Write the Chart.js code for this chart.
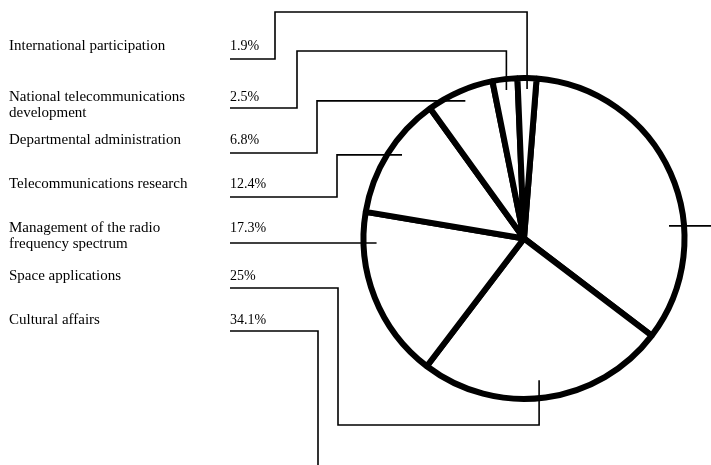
<!DOCTYPE html>
<html>
<head>
<meta charset="utf-8">
<script src="https://cdn.jsdelivr.net/npm/chart.js@4"></script>
<style>
  html, body { margin: 0; padding: 0; background: #fff; }
  #wrap { width: 711px; height: 465px; position: relative; }
</style>
</head>
<body>
<div id="wrap"><canvas id="chart"></canvas></div>
<script>
// slices, clockwise from the top of the pie
const categories = [
  ["Cultural affairs"],
  ["Space applications"],
  ["Management of the radio", "frequency spectrum"],
  ["Telecommunications research"],
  ["Departmental administration"],
  ["National telecommunications", "development"],
  ["International participation"],
];
const shares = [34.1, 25, 17.3, 12.4, 6.8, 2.5, 1.9]; // %

// label column: text row (middle of first line) and underline
const labelY = [320, 276, 228, 184, 140, 97, 46];
const underlineY = [331, 288, 243, 197, 153, 108, 59];

// how each leader runs from its underline to the pie
// at = degrees clockwise from top where it meets the rim, depth = how far it pokes in
const routes = [
  { approach: "right", elbowX: 318, railY: 500, outX: 760, at: 85.5, depth: 15 },
  { approach: "bottom", elbowX: 338, railY: 425, at: 174.6, depth: 18 },
  { approach: "left", elbowX: null, at: 268.4, depth: 13 },
  { approach: "left", elbowX: 337, at: 301.4, depth: 15 },
  { approach: "left", elbowX: 317, at: 329, depth: 24 },
  { approach: "top", elbowX: 297, railY: 51, at: 353.7, depth: 11 },
  { approach: "top", elbowX: 275, railY: 12, at: 1.1, depth: 11 },
];

const NAME_X = 9;
const PCT_X = 230;

const labelsPlugin = {
  id: "leaderLabels",
  afterDraw(chart) {
    const ctx = chart.ctx;
    const arc = chart.getDatasetMeta(0).data[0];
    const cx = arc.x, cy = arc.y, r = chart.getDatasetMeta(0).controller.outerRadius;

    ctx.save();
    ctx.fillStyle = "#000";
    ctx.textBaseline = "middle";
    categories.forEach((lines, i) => {
      ctx.font = "15px 'Liberation Serif'";
      lines.forEach((t, k) => ctx.fillText(t, NAME_X, labelY[i] + k * 16));
      ctx.font = "14px 'Liberation Serif'";
      ctx.fillText(shares[i] + "%", PCT_X, labelY[i]);
    });

    ctx.strokeStyle = "#000";
    ctx.lineWidth = 1.6;
    ctx.lineJoin = "miter";
    routes.forEach((rt, i) => {
      const a = rt.at * Math.PI / 180;
      const ax = cx + r * Math.sin(a);
      const ay = cy - r * Math.cos(a);
      const u = underlineY[i];
      const pts = [[PCT_X, u]];
      if (rt.approach === "left") {
        if (rt.elbowX !== null) pts.push([rt.elbowX, u], [rt.elbowX, ay]);
        pts.push([ax + rt.depth, ay]);
      } else if (rt.approach === "top") {
        pts.push([rt.elbowX, u], [rt.elbowX, rt.railY], [ax, rt.railY], [ax, ay + rt.depth]);
      } else if (rt.approach === "bottom") {
        pts.push([rt.elbowX, u], [rt.elbowX, rt.railY], [ax, rt.railY], [ax, ay - rt.depth]);
      } else {
        pts.push([rt.elbowX, u], [rt.elbowX, rt.railY], [rt.outX, rt.railY], [rt.outX, ay], [ax - rt.depth, ay]);
      }
      ctx.beginPath();
      pts.forEach(([x, y], k) => (k ? ctx.lineTo(x, y) : ctx.moveTo(x, y)));
      ctx.stroke();
    });
    ctx.restore();
  },
};

new Chart(document.getElementById("chart"), {
  type: "pie",
  data: {
    labels: categories,
    datasets: [
      {
        data: shares,
        backgroundColor: "#fff",
        borderColor: "#000",
        borderWidth: 6,
        radius: 160.5,
      },
    ],
  },
  options: {
    responsive: true,
    maintainAspectRatio: false,
    animation: false,
    rotation: 4.5,
    layout: { padding: { left: 360, right: 23, top: 74, bottom: 62 } },
    plugins: {
      legend: { display: false },
      tooltip: { enabled: false },
    },
  },
  plugins: [labelsPlugin],
});
</script>
</body>
</html>
